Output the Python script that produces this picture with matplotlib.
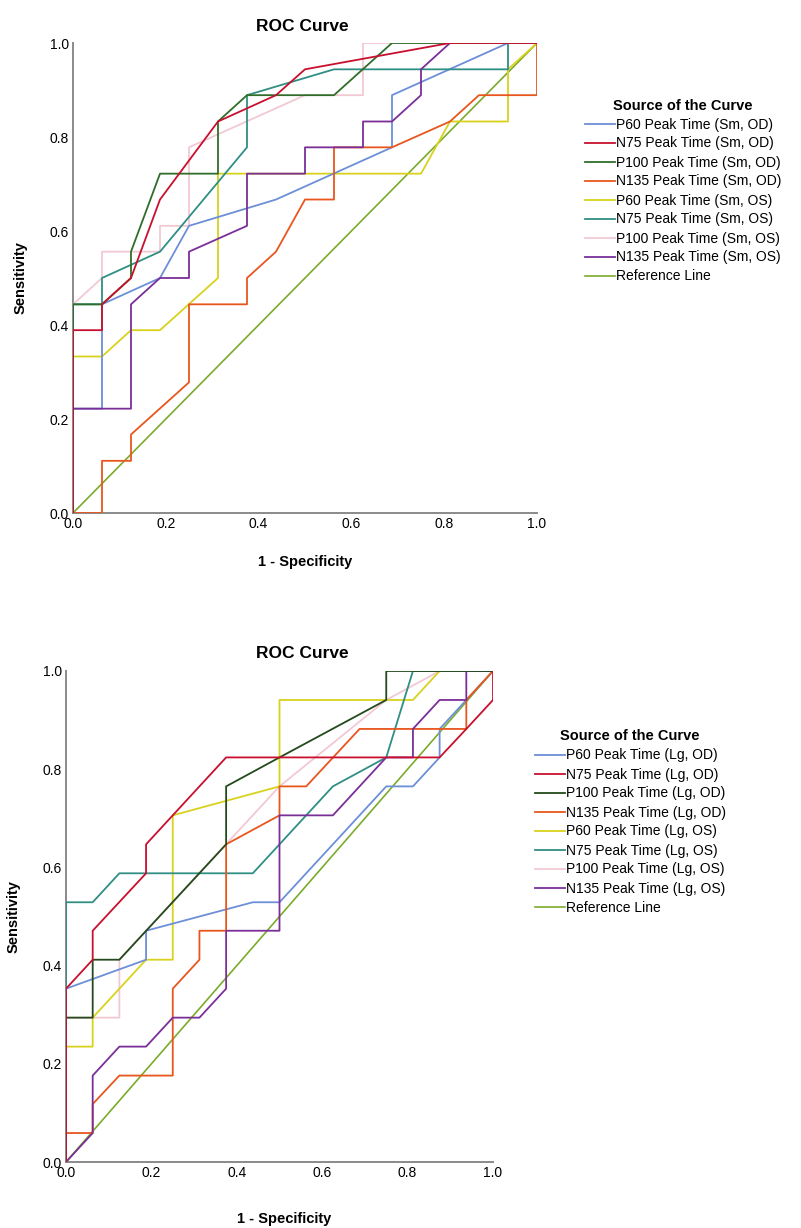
import matplotlib.pyplot as plt

plt.rcParams['font.family'] = ['Liberation Sans', 'DejaVu Sans']

# ---- top chart (Sm) : 1 - specificity (x) and sensitivity (y)
sm_labels = ['P60 Peak Time (Sm, OD)', 'N75 Peak Time (Sm, OD)', 'P100 Peak Time (Sm, OD)',
             'N135 Peak Time (Sm, OD)', 'P60 Peak Time (Sm, OS)', 'N75 Peak Time (Sm, OS)',
             'P100 Peak Time (Sm, OS)', 'N135 Peak Time (Sm, OS)']

sm_p60_od_x = [0, 0, 0.0625, 0.0625, 0.1875, 0.25, 0.4375, 0.6875, 0.6875, 0.9375, 1]
sm_p60_od_y = [0, 0.222, 0.222, 0.444, 0.5, 0.611, 0.667, 0.778, 0.889, 1, 1]
sm_n75_od_x = [0, 0, 0.0625, 0.0625, 0.125, 0.1875, 0.3125, 0.4375, 0.5, 0.8125, 1]
sm_n75_od_y = [0, 0.389, 0.389, 0.444, 0.5, 0.667, 0.833, 0.889, 0.944, 1, 1]
sm_p100_od_x = [0, 0, 0.0625, 0.125, 0.125, 0.1875, 0.3125, 0.3125, 0.375, 0.5625, 0.6875, 1]
sm_p100_od_y = [0, 0.444, 0.444, 0.5, 0.556, 0.722, 0.722, 0.833, 0.889, 0.889, 1, 1]
sm_n135_od_x = [0, 0.0625, 0.0625, 0.125, 0.125, 0.25, 0.25, 0.375, 0.375, 0.4375, 0.5,
                0.5625, 0.5625, 0.6875, 0.8125, 0.875, 1, 1]
sm_n135_od_y = [0, 0, 0.111, 0.111, 0.167, 0.278, 0.444, 0.444, 0.5, 0.556, 0.667,
                0.667, 0.778, 0.778, 0.833, 0.889, 0.889, 1]
sm_p60_os_x = [0, 0, 0.0625, 0.125, 0.1875, 0.3125, 0.3125, 0.75, 0.8125, 0.9375, 0.9375, 1]
sm_p60_os_y = [0, 0.333, 0.333, 0.389, 0.389, 0.5, 0.722, 0.722, 0.833, 0.833, 0.944, 1]
sm_n75_os_x = [0, 0, 0.0625, 0.0625, 0.1875, 0.375, 0.375, 0.5625, 0.9375, 0.9375, 1]
sm_n75_os_y = [0, 0.444, 0.444, 0.5, 0.556, 0.778, 0.889, 0.944, 0.944, 1, 1]
sm_p100_os_x = [0, 0, 0.0625, 0.0625, 0.1875, 0.1875, 0.25, 0.25, 0.5, 0.625, 0.625, 1]
sm_p100_os_y = [0, 0.444, 0.5, 0.556, 0.556, 0.611, 0.611, 0.778, 0.889, 0.889, 1, 1]
sm_n135_os_x = [0, 0, 0.125, 0.125, 0.1875, 0.25, 0.25, 0.375, 0.375, 0.5, 0.5, 0.625,
                0.625, 0.6875, 0.75, 0.75, 0.8125, 1]
sm_n135_os_y = [0, 0.222, 0.222, 0.444, 0.5, 0.5, 0.556, 0.611, 0.722, 0.722, 0.778, 0.778,
                0.833, 0.833, 0.889, 0.944, 1, 1]

# ---- bottom chart (Lg)
lg_labels = ['P60 Peak Time (Lg, OD)', 'N75 Peak Time (Lg, OD)', 'P100 Peak Time (Lg, OD)',
             'N135 Peak Time (Lg, OD)', 'P60 Peak Time (Lg, OS)', 'N75 Peak Time (Lg, OS)',
             'P100 Peak Time (Lg, OS)', 'N135 Peak Time (Lg, OS)']

lg_p60_od_x = [0, 0, 0.1875, 0.1875, 0.4375, 0.5, 0.75, 0.8125, 0.875, 0.875, 1]
lg_p60_od_y = [0, 0.353, 0.412, 0.471, 0.529, 0.529, 0.765, 0.765, 0.824, 0.882, 1]
lg_n75_od_x = [0, 0, 0.0625, 0.0625, 0.1875, 0.1875, 0.375, 0.875, 0.9375, 1, 1]
lg_n75_od_y = [0, 0.353, 0.412, 0.471, 0.588, 0.647, 0.824, 0.824, 0.882, 0.941, 1]
lg_p100_od_x = [0, 0, 0.0625, 0.0625, 0.125, 0.375, 0.375, 0.5, 0.75, 0.75, 1]
lg_p100_od_y = [0, 0.294, 0.294, 0.412, 0.412, 0.647, 0.765, 0.824, 0.941, 1, 1]
lg_n135_od_x = [0, 0, 0.0625, 0.0625, 0.125, 0.25, 0.25, 0.3125, 0.3125, 0.375, 0.375,
                0.5, 0.5, 0.5625, 0.6875, 0.9375, 0.9375, 1]
lg_n135_od_y = [0, 0.059, 0.059, 0.118, 0.176, 0.176, 0.353, 0.412, 0.471, 0.471, 0.647,
                0.706, 0.765, 0.765, 0.882, 0.882, 0.941, 1]
lg_p60_os_x = [0, 0, 0.0625, 0.0625, 0.1875, 0.25, 0.25, 0.5, 0.5, 0.8125, 0.875, 1]
lg_p60_os_y = [0, 0.235, 0.235, 0.294, 0.412, 0.412, 0.706, 0.765, 0.941, 0.941, 1, 1]
lg_n75_os_x = [0, 0, 0.0625, 0.125, 0.4375, 0.625, 0.75, 0.8125, 1]
lg_n75_os_y = [0, 0.529, 0.529, 0.588, 0.588, 0.765, 0.824, 1, 1]
lg_p100_os_x = [0, 0, 0.125, 0.125, 0.5, 0.75, 0.875, 1]
lg_p100_os_y = [0, 0.294, 0.294, 0.412, 0.765, 0.941, 1, 1]
lg_n135_os_x = [0, 0.0625, 0.0625, 0.125, 0.1875, 0.25, 0.3125, 0.375, 0.375, 0.5, 0.5,
                0.625, 0.75, 0.8125, 0.8125, 0.875, 0.9375, 0.9375, 1]
lg_n135_os_y = [0, 0.059, 0.176, 0.235, 0.235, 0.294, 0.294, 0.353, 0.471, 0.471, 0.706,
                0.706, 0.824, 0.824, 0.882, 0.941, 0.941, 1, 1]

ref_x = [0, 1]
ref_y = [0, 1]

sm_colors = ['#6c8fd8', '#c8102e', '#2f6e2a', '#e8561e', '#d9d21c', '#2f8f84', '#f2c9d3', '#7a2f98']
lg_colors = ['#6c8fd8', '#c8102e', '#234a1c', '#e8561e', '#d9d21c', '#2f8f84', '#f2c9d3', '#7a2f98']
ref_color = '#7bab2c'

sm_curves = [(sm_p60_od_x, sm_p60_od_y), (sm_n75_od_x, sm_n75_od_y), (sm_p100_od_x, sm_p100_od_y),
             (sm_n135_od_x, sm_n135_od_y), (sm_p60_os_x, sm_p60_os_y), (sm_n75_os_x, sm_n75_os_y),
             (sm_p100_os_x, sm_p100_os_y), (sm_n135_os_x, sm_n135_os_y)]
lg_curves = [(lg_p60_od_x, lg_p60_od_y), (lg_n75_od_x, lg_n75_od_y), (lg_p100_od_x, lg_p100_od_y),
             (lg_n135_od_x, lg_n135_od_y), (lg_p60_os_x, lg_p60_os_y), (lg_n75_os_x, lg_n75_os_y),
             (lg_p100_os_x, lg_p100_os_y), (lg_n135_os_x, lg_n135_os_y)]

fig = plt.figure(figsize=(8.01, 12.28), dpi=100)


def roc_panel(rect, curves, labels, colors, leg_anchor, title_x, xlab_x, xlab_pad):
    ax = fig.add_axes(rect)
    # light lines underneath, strong ones on top
    order = [6, 4, 0, 5, 3, 7, 2, 1]
    handles = {}
    for i in order:
        x, y = curves[i]
        h, = ax.plot(x, y, color=colors[i], lw=1.3, label=labels[i], zorder=3)
        handles[i] = h
    ref, = ax.plot(ref_x, ref_y, color=ref_color, lw=1.2, label='Reference Line', zorder=2)
    ax.set_xlim(0, 1)
    ax.set_ylim(0, 1)
    ticks = [0, 0.2, 0.4, 0.6, 0.8, 1.0]
    ax.set_xticks(ticks)
    ax.set_yticks(ticks)
    ax.set_xticklabels(['%.1f' % t for t in ticks])
    ax.set_yticklabels(['%.1f' % t for t in ticks])
    ax.tick_params(length=0, labelsize=10, pad=3)
    for s in ['top', 'right']:
        ax.spines[s].set_visible(False)
    for s in ['left', 'bottom']:
        ax.spines[s].set_color('#8a8a8a')
        ax.spines[s].set_linewidth(1.4)
    ax.set_title('ROC Curve', fontsize=12.5, fontweight='bold', pad=9, x=title_x)
    ax.set_xlabel('1 - Specificity', fontsize=10.5, fontweight='bold', labelpad=xlab_pad, x=xlab_x)
    ax.set_ylabel('Sensitivity', fontsize=10.5, fontweight='bold', labelpad=16)
    hl = [handles[i] for i in range(8)] + [ref]
    fig.legend(handles=hl, labels=labels + ['Reference Line'], loc='upper left',
               bbox_to_anchor=leg_anchor, frameon=False, fontsize=10,
               handlelength=2.2, handletextpad=0.05, labelspacing=0.36,
               title='Source of the Curve',
               title_fontproperties={'weight': 'bold', 'size': 10.5})
    return ax


roc_panel([73 / 801, 1 - 513 / 1228, 464 / 801, 470 / 1228], sm_curves, sm_labels, sm_colors,
          (572 / 801, 1 - 86 / 1228), 0.495, 0.5, 17)
roc_panel([66 / 801, 1 - 1162 / 1228, 427 / 801, 491 / 1228], lg_curves, lg_labels, lg_colors,
          (522 / 801, 1 - 717 / 1228), 0.553, 0.51, 23)

fig.savefig('out.png', dpi=100)
